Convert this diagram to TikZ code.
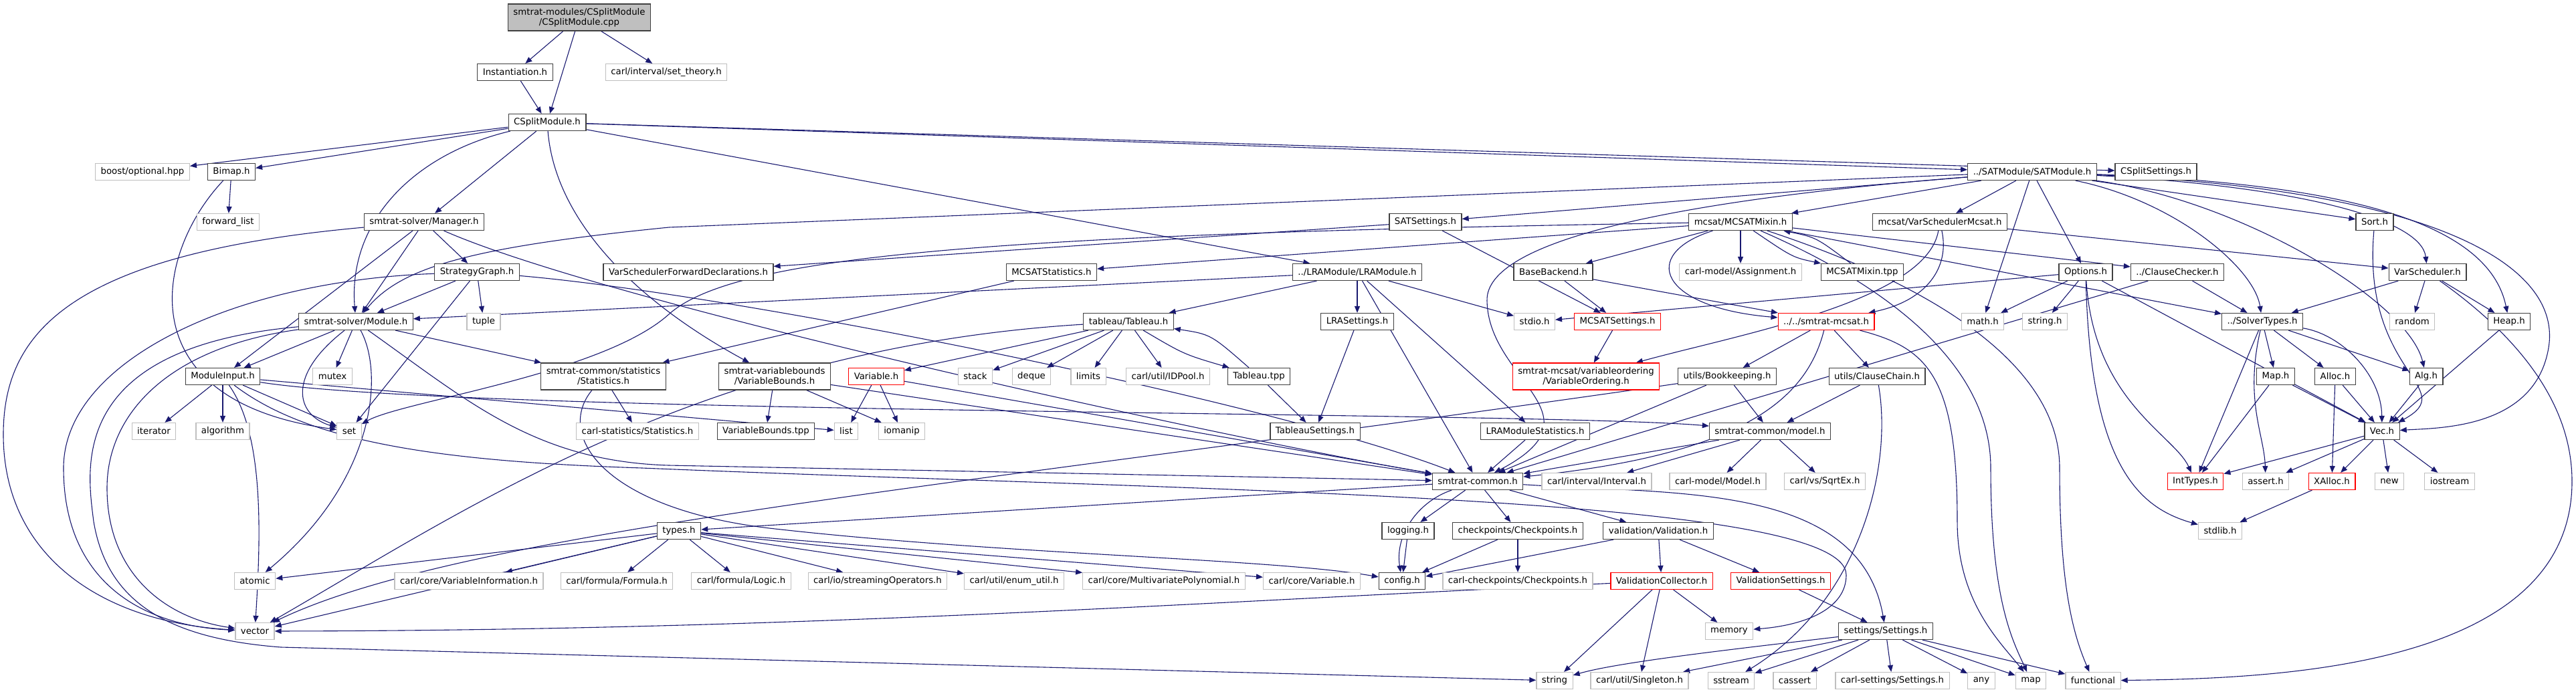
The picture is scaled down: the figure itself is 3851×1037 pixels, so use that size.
\documentclass[tikz,border=0pt]{standalone}
\usepackage{fontspec}
\setmainfont{DejaVu Sans}
\usepackage{tikz}
\usetikzlibrary{arrows.meta, backgrounds}
\definecolor{edgeblue}{HTML}{191970}
\definecolor{extgray}{HTML}{BFBFBF}
\definecolor{rootline}{HTML}{404040}

\begin{document}
\begin{tikzpicture}[
  x=1pt, y=-1pt,
  file/.style={draw=rootline, fill=white, line width=1.2pt, inner xsep=8pt, inner ysep=2pt, minimum height=25pt, font=\fontsize{13.3}{15}\selectfont},
  sys/.style={file, draw=extgray},
  trunc/.style={file, draw=red},
  two/.style={align=center, minimum height=40pt},
  dep/.style={->, draw=edgeblue, line width=1.1pt},
  >={Triangle[length=10pt,width=8pt]}
]
  \useasboundingbox (0,0) rectangle (3851,1037);

  \node[file, fill=extgray, two] (cpp) at (866,26) {smtrat-modules/CSplitModule\\/CSplitModule.cpp};
  \node[file] (inst) at (770,108) {Instantiation.h};
  \node[sys] (settheory) at (996,108) {carl/interval/set\_theory.h};
  \node[file] (csh) at (818,183) {CSplitModule.h};
  \node[sys] (boostopt) at (213,257) {boost/optional.hpp};
  \node[file] (bimap) at (346,257) {Bimap.h};
  \node[file] (satmod) at (3038,257) {../SATModule/SATModule.h};
  \node[file] (cssettings) at (3223,257) {CSplitSettings.h};
  \node[sys] (fwdlist) at (341,332) {forward\_list};
  \node[file] (manager) at (634,332) {smtrat-solver/Manager.h};
  \node[file] (satset) at (2131,332) {SATSettings.h};
  \node[file] (mixin) at (2602,332) {mcsat/MCSATMixin.h};
  \node[file] (vsmcsat) at (2900,332) {mcsat/VarSchedulerMcsat.h};
  \node[file] (sorth) at (3550,332) {Sort.h};
  \node[file] (strat) at (713,407) {StrategyGraph.h};
  \node[file] (vsfwd) at (1029,407) {VarSchedulerForwardDeclarations.h};
  \node[file] (mcstats) at (1572,407) {MCSATStatistics.h};
  \node[file] (lramod) at (2029,407) {../LRAModule/LRAModule.h};
  \node[file] (backend) at (2322,407) {BaseBackend.h};
  \node[sys] (assign) at (2602,407) {carl-model/Assignment.h};
  \node[file] (mixintpp) at (2784,407) {MCSATMixin.tpp};
  \node[file] (options) at (3118,407) {Options.h};
  \node[file] (ccheck) at (3255,407) {../ClauseChecker.h};
  \node[file] (vsched) at (3629,407) {VarScheduler.h};
  \node[file] (module) at (532,481) {smtrat-solver/Module.h};
  \node[sys] (tuple) at (723,481) {tuple};
  \node[file] (tableau) at (1687,481) {tableau/Tableau.h};
  \node[file] (lraset) at (2029,481) {LRASettings.h};
  \node[sys] (stdio) at (2294,481) {stdio.h};
  \node[trunc] (mcsatset) at (2418,481) {MCSATSettings.h};
  \node[trunc] (mcsath) at (2730,481) {../../smtrat-mcsat.h};
  \node[sys] (math) at (2964,481) {math.h};
  \node[sys] (stringh) at (3057,481) {string.h};
  \node[file] (soltypes) at (3382,481) {../SolverTypes.h};
  \node[sys] (random) at (3606,481) {random};
  \node[file] (heap) at (3751,481) {Heap.h};
  \node[file] (minput) at (333,563) {ModuleInput.h};
  \node[sys] (mutex) at (497,563) {mutex};
  \node[file, two] (stats) at (902,563) {smtrat-common/statistics\\/Statistics.h};
  \node[file, two] (vbounds) at (1158,563) {smtrat-variablebounds\\/VariableBounds.h};
  \node[trunc] (variable) at (1310,563) {Variable.h};
  \node[sys] (stack) at (1458,563) {stack};
  \node[sys] (deque) at (1542,563) {deque};
  \node[sys] (limits) at (1627,563) {limits};
  \node[sys] (idpool) at (1746,563) {carl/util/IDPool.h};
  \node[file] (tabtpp) at (1882,563) {Tableau.tpp};
  \node[trunc, two] (varorder) at (2371,563) {smtrat-mcsat/variableordering\\/VariableOrdering.h};
  \node[file] (bookkeep) at (2582,563) {utils/Bookkeeping.h};
  \node[file] (cchain) at (2806,563) {utils/ClauseChain.h};
  \node[file] (maph) at (3402,563) {Map.h};
  \node[file] (alloc) at (3491,563) {Alloc.h};
  \node[file] (alg) at (3627,563) {Alg.h};
  \node[sys] (iterator) at (230,645) {iterator};
  \node[sys] (algorithm) at (333,645) {algorithm};
  \node[sys] (set) at (522,645) {set};
  \node[sys] (carlstats) at (953,645) {carl-statistics/Statistics.h};
  \node[file] (vbtpp) at (1145,645) {VariableBounds.tpp};
  \node[sys] (list) at (1265,645) {list};
  \node[sys] (iomanip) at (1348,645) {iomanip};
  \node[file] (tabset) at (1966,645) {TableauSettings.h};
  \node[file] (lrastats) at (2295,645) {LRAModuleStatistics.h};
  \node[file] (model) at (2646,645) {smtrat-common/model.h};
  \node[file] (vec) at (3561,645) {Vec.h};
  \node[file] (common) at (2209,720) {smtrat-common.h};
  \node[sys] (interval) at (2387,720) {carl/interval/Interval.h};
  \node[sys] (carlmodel) at (2568,720) {carl-model/Model.h};
  \node[sys] (sqrtex) at (2728,720) {carl/vs/SqrtEx.h};
  \node[trunc] (inttypes) at (3282,720) {IntTypes.h};
  \node[sys] (assert) at (3387,720) {assert.h};
  \node[trunc] (xalloc) at (3486,720) {XAlloc.h};
  \node[sys] (new) at (3572,720) {new};
  \node[sys] (iostream) at (3662,720) {iostream};
  \node[file] (types) at (1015,794) {types.h};
  \node[file] (logging) at (2105,794) {logging.h};
  \node[file] (checkpoints) at (2269,794) {checkpoints/Checkpoints.h};
  \node[file] (validation) at (2479,794) {validation/Validation.h};
  \node[sys] (stdlib) at (3319,794) {stdlib.h};
  \node[sys] (atomic) at (381,869) {atomic};
  \node[sys] (varinfo) at (701,869) {carl/core/VariableInformation.h};
  \node[sys] (formula) at (922,869) {carl/formula/Formula.h};
  \node[sys] (logic) at (1108,869) {carl/formula/Logic.h};
  \node[sys] (streamops) at (1312,869) {carl/io/streamingOperators.h};
  \node[sys] (enumutil) at (1516,869) {carl/util/enum\_util.h};
  \node[sys] (mvpoly) at (1740,869) {carl/core/MultivariatePolynomial.h};
  \node[sys] (carlvar) at (1961,869) {carl/core/Variable.h};
  \node[file] (config) at (2096,869) {config.h};
  \node[sys] (carlcp) at (2269,869) {carl-checkpoints/Checkpoints.h};
  \node[trunc] (vcollect) at (2484,869) {ValidationCollector.h};
  \node[trunc] (vsettings) at (2662,869) {ValidationSettings.h};
  \node[sys] (vector) at (381,944) {vector};
  \node[sys] (memory) at (2585,944) {memory};
  \node[file] (settings) at (2819,944) {settings/Settings.h};
  \node[sys] (string) at (2324,1018) {string};
  \node[sys] (singleton) at (2451,1018) {carl/util/Singleton.h};
  \node[sys] (sstream) at (2588,1018) {sstream};
  \node[sys] (cassert) at (2683,1018) {cassert};
  \node[sys] (carlsettings) at (2829,1018) {carl-settings/Settings.h};
  \node[sys] (any) at (2962,1018) {any};
  \node[sys] (map) at (3036,1018) {map};
  \node[sys] (functional) at (3129,1018) {functional};

  \begin{pgfonlayer}{background}
  \draw[dep] (cpp) -- (inst);
  \draw[dep] (cpp) -- (csh);
  \draw[dep] (cpp) -- (settheory);
  \draw[dep] (inst) -- (csh);
  \draw[dep] (csh) -- (boostopt);
  \draw[dep] (csh) -- (bimap);
  \draw[dep] (csh) -- (manager);
  \draw[dep] (csh) .. controls (620,230) and (520,330) .. (module);
  \draw[dep] (csh) .. controls (830,330) and (950,450) .. (vbounds);
  \draw[dep] (csh) -- (satmod);
  \draw[dep] (csh) -- (cssettings);
  \draw[dep] (csh) -- (lramod);
  \draw[dep] (bimap) -- (fwdlist);
  \draw[dep] (bimap) .. controls (230,380) and (190,600) .. (set);
  \draw[dep] (manager) .. controls (100,380) and (5,500) .. (5,650) .. controls (5,830) and (150,930) .. (vector);
  \draw[dep] (manager) -- (module);
  \draw[dep] (manager) -- (minput);
  \draw[dep] (manager) -- (strat);
  \draw[dep] (manager) .. controls (900,450) and (1800,650) .. (common);
  \draw[dep] (strat) .. controls (350,420) and (95,540) .. (95,700) .. controls (95,860) and (200,935) .. (vector);
  \draw[dep] (strat) -- (module);
  \draw[dep] (strat) -- (set);
  \draw[dep] (strat) -- (tuple);
  \draw[dep] (strat) .. controls (1100,440) and (1900,600) .. (common);
  \draw[dep] (module) .. controls (250,520) and (160,620) .. (160,730) .. controls (160,860) and (250,925) .. (vector);
  \draw[dep] (module) .. controls (100,520) and (130,700) .. (140,780) .. controls (160,900) and (250,955) .. (420,968) -- (string);
  \draw[dep] (module) -- (minput);
  \draw[dep] (module) .. controls (430,560) and (440,620) .. (set);
  \draw[dep] (module) -- (mutex);
  \draw[dep] (module) .. controls (575,560) and (560,720) .. (atomic);
  \draw[dep] (module) -- (stats);
  \draw[dep] (module) .. controls (700,600) and (800,690) .. (1000,696) -- (common);
  \draw[dep] (minput) -- (iterator);
  \draw[dep] (minput) -- (algorithm);
  \draw[dep] (minput) -- (set);
  \draw[dep] (minput) .. controls (395,650) and (390,800) .. (vector);
  \draw[dep] (minput) -- (list);
  \draw[dep] (minput) .. controls (700,620) and (2300,615) .. (model);
  \draw[dep] (minput) .. controls (460,660) and (650,690) .. (960,700) .. controls (1800,735) and (2760,740) .. (2760,860) .. controls (2760,910) and (2700,935) .. (memory);
  \draw[dep] (stats) -- (carlstats);
  \draw[dep] (stats) .. controls (830,650) and (900,760) .. (1150,790) .. controls (1500,830) and (1900,835) .. (config);
  \draw[dep] (vbounds) -- (vbtpp);
  \draw[dep] (vbounds) -- (iomanip);
  \draw[dep] (vbounds) -- (common);
  \draw[dep] (variable) -- (list);
  \draw[dep] (variable) -- (iomanip);
  \draw[dep] (variable) -- (common);
  \draw[dep] (tableau) -- (variable);
  \draw[dep] (tableau) -- (stack);
  \draw[dep] (tableau) -- (deque);
  \draw[dep] (tableau) -- (limits);
  \draw[dep] (tableau) -- (idpool);
  \draw[dep] (tableau) .. controls (1770,530) .. (tabtpp);
  \draw[dep] (tabtpp) .. controls (1810,500) .. (tableau);
  \draw[dep] (tableau) .. controls (1050,520) and (700,760) .. (vector);
  \draw[dep] (tabtpp) -- (tabset);
  \draw[dep] (lramod) -- (lraset);
  \draw[dep] (lramod) -- (stdio);
  \draw[dep] (lramod) -- (tableau);
  \draw[dep] (lramod) -- (lrastats);
  \draw[dep] (lramod) -- (common);
  \draw[dep] (lramod) -- (module);
  \draw[dep] (lraset) -- (tabset);
  \draw[dep] (lrastats) -- (common);
  \draw[dep] (mcstats) -- (stats);
  \draw[dep] (satset) -- (vsfwd);
  \draw[dep] (satset) -- (mcsatset);
  \draw[dep] (backend) -- (mcsatset);
  \draw[dep] (backend) -- (mcsath);
  \draw[dep] (mcsatset) -- (varorder);
  \draw[dep] (mixin) -- (backend);
  \draw[dep] (mixin) -- (assign);
  \draw[dep] (mixin) .. controls (2680,385) .. (mixintpp);
  \draw[dep] (mixintpp) .. controls (2715,355) .. (mixin);
  \draw[dep] (mixin) -- (mcstats);
  \draw[dep] (mixin) .. controls (1500,350) and (1100,380) .. (1000,470) .. controls (900,560) and (600,600) .. (set);
  \draw[dep] (mixin) .. controls (2450,380) and (2480,460) .. (mcsath);
  \draw[dep] (mixin) -- (ccheck);
  \draw[dep] (mixin) -- (soltypes);
  \draw[dep] (mixin) .. controls (2850,440) and (2976,560) .. (2976,700) .. controls (2976,900) and (3010,960) .. (map);
  \draw[dep] (mixin) .. controls (2900,430) and (3079,550) .. (3079,700) .. controls (3079,880) and (3100,950) .. (functional);
  \draw[dep] (vsmcsat) -- (vsched);
  \draw[dep] (vsmcsat) .. controls (2915,400) and (2880,450) .. (mcsath);
  \draw[dep] (vsmcsat) .. controls (2880,450) and (2600,500) .. (varorder);
  \draw[dep] (mcsath) -- (bookkeep);
  \draw[dep] (mcsath) -- (cchain);
  \draw[dep] (mcsath) .. controls (2700,600) and (2600,680) .. (common);
  \draw[dep] (mcsath) .. controls (2880,520) and (2926,560) .. (2926,780) .. controls (2926,900) and (2990,960) .. (map);
  \draw[dep] (bookkeep) -- (model);
  \draw[dep] (bookkeep) -- (common);
  \draw[dep] (bookkeep) .. controls (1500,720) and (700,790) .. (vector);
  \draw[dep] (cchain) -- (model);
  \draw[dep] (cchain) .. controls (2830,700) and (2780,900) .. (sstream);
  \draw[dep] (model) -- (common);
  \draw[dep] (model) -- (interval);
  \draw[dep] (model) -- (carlmodel);
  \draw[dep] (model) -- (sqrtex);
  \draw[dep] (satmod) -- (1000,340) .. controls (700,370) and (600,400) .. (module);
  \draw[dep] (satmod) -- (satset);
  \draw[dep] (satmod) -- (mixin);
  \draw[dep] (satmod) -- (vsmcsat);
  \draw[dep] (satmod) -- (sorth);
  \draw[dep] (satmod) -- (options);
  \draw[dep] (satmod) -- (math);
  \draw[dep] (satmod) .. controls (3250,300) and (3370,400) .. (soltypes);
  \draw[dep] (satmod) .. controls (3350,300) and (3600,450) .. (alg);
  \draw[dep] (satmod) .. controls (3450,280) and (3620,330) .. (vsched);
  \draw[dep] (satmod) .. controls (3500,275) and (3720,330) .. (heap);
  \draw[dep] (satmod) .. controls (3650,285) and (3830,400) .. (3810,520) .. controls (3790,640) and (3650,640) .. (vec);
  \draw[dep] (satmod) .. controls (2500,300) and (2220,360) .. (2223,450) .. controls (2225,570) and (2400,620) .. (common);
  \draw[dep] (sorth) .. controls (3530,560) and (3680,580) .. (vec);
  \draw[dep] (options) -- (math);
  \draw[dep] (options) -- (stringh);
  \draw[dep] (options) -- (stdio);
  \draw[dep] (options) .. controls (3125,700) and (3200,760) .. (stdlib);
  \draw[dep] (options) .. controls (3130,600) and (3250,650) .. (inttypes);
  \draw[dep] (options) -- (vec);
  \draw[dep] (ccheck) -- (soltypes);
  \draw[dep] (ccheck) -- (common);
  \draw[dep] (vsched) -- (soltypes);
  \draw[dep] (vsched) -- (random);
  \draw[dep] (vsched) -- (heap);
  \draw[dep] (vsched) .. controls (3760,500) and (3845,600) .. (3845,720) .. controls (3845,1000) and (3400,1015) .. (functional);
  \draw[dep] (soltypes) -- (maph);
  \draw[dep] (soltypes) -- (alloc);
  \draw[dep] (soltypes) -- (alg);
  \draw[dep] (soltypes) .. controls (3500,500) and (3560,560) .. (vec);
  \draw[dep] (soltypes) -- (inttypes);
  \draw[dep] (soltypes) .. controls (3355,600) and (3385,650) .. (assert);
  \draw[dep] (heap) -- (vec);
  \draw[dep] (maph) -- (vec);
  \draw[dep] (maph) -- (inttypes);
  \draw[dep] (alloc) -- (vec);
  \draw[dep] (alloc) -- (xalloc);
  \draw[dep] (alg) -- (vec);
  \draw[dep] (vec) -- (inttypes);
  \draw[dep] (vec) -- (assert);
  \draw[dep] (vec) -- (xalloc);
  \draw[dep] (vec) -- (new);
  \draw[dep] (vec) -- (iostream);
  \draw[dep] (xalloc) -- (stdlib);
  \draw[dep] (common) -- (types);
  \draw[dep] (common) -- (logging);
  \draw[dep] (common) -- (checkpoints);
  \draw[dep] (common) -- (validation);
  \draw[dep] (common) .. controls (2120,750) and (2085,800) .. (config);
  \draw[dep] (common) .. controls (2500,740) and (2780,720) .. (settings);
  \draw[dep] (types) -- (atomic);
  \draw[dep] (types) -- (vector);
  \draw[dep] (types) -- (varinfo);
  \draw[dep] (types) -- (formula);
  \draw[dep] (types) -- (logic);
  \draw[dep] (types) -- (streamops);
  \draw[dep] (types) -- (enumutil);
  \draw[dep] (types) -- (mvpoly);
  \draw[dep] (types) -- (carlvar);
  \draw[dep] (logging) -- (config);
  \draw[dep] (checkpoints) -- (config);
  \draw[dep] (checkpoints) -- (carlcp);
  \draw[dep] (validation) -- (config);
  \draw[dep] (validation) -- (vcollect);
  \draw[dep] (validation) -- (vsettings);
  \draw[dep] (vcollect) .. controls (1800,900) and (1200,943) .. (vector);
  \draw[dep] (vcollect) -- (string);
  \draw[dep] (vcollect) -- (singleton);
  \draw[dep] (vcollect) -- (memory);
  \draw[dep] (vsettings) -- (settings);
  \draw[dep] (settings) .. controls (2600,970) and (2420,990) .. (string);
  \draw[dep] (settings) -- (singleton);
  \draw[dep] (settings) -- (sstream);
  \draw[dep] (settings) -- (cassert);
  \draw[dep] (settings) -- (carlsettings);
  \draw[dep] (settings) -- (any);
  \draw[dep] (settings) -- (map);
  \draw[dep] (settings) -- (functional);
  \end{pgfonlayer}
\end{tikzpicture}
\end{document}
